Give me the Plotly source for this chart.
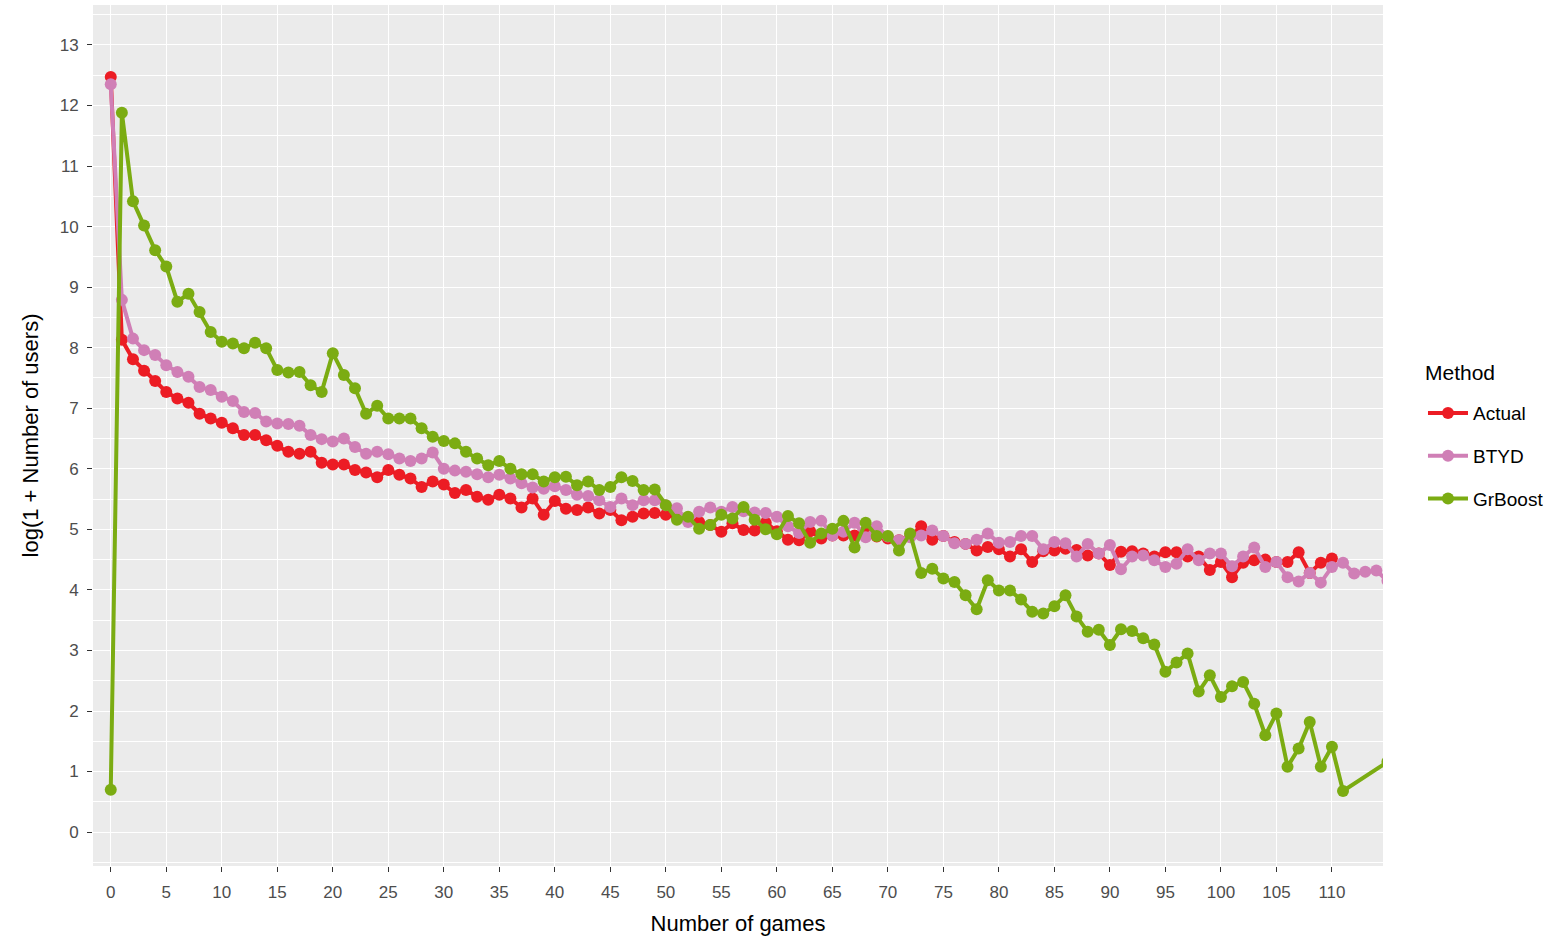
import plotly.graph_objects as go

games_actual = list(range(0, 111))
actual = [12.47, 8.13, 7.81, 7.62, 7.45, 7.27, 7.16, 7.09, 6.91, 6.83,
          6.76, 6.67, 6.56, 6.56, 6.47, 6.38, 6.28, 6.25, 6.28, 6.10,
          6.07, 6.07, 5.98, 5.94, 5.86, 5.98, 5.90, 5.84, 5.70, 5.79,
          5.74, 5.60, 5.65, 5.54, 5.49, 5.57, 5.51, 5.36, 5.51, 5.24,
          5.47, 5.34, 5.32, 5.36, 5.26, 5.32, 5.15, 5.21, 5.26, 5.27,
          5.24, 5.21, 5.18, 5.12, 5.07, 4.96, 5.10, 4.99, 4.98, 5.11,
          4.97, 4.83, 4.82, 4.97, 4.85, 4.90, 4.90, 4.90, 4.97, 4.88,
          4.85, 4.82, 4.88, 5.05, 4.83, 4.89, 4.79, 4.76, 4.65, 4.71,
          4.67, 4.55, 4.67, 4.46, 4.64, 4.65, 4.68, 4.66, 4.57, 4.60,
          4.41, 4.63, 4.64, 4.60, 4.55, 4.62, 4.62, 4.55, 4.55, 4.33,
          4.46, 4.21, 4.45, 4.49, 4.50, 4.46, 4.46, 4.62, 4.28, 4.45,
          4.52]

games_btyd = list(range(0, 116))
btyd = [12.35, 8.79, 8.15, 7.96, 7.88, 7.71, 7.60, 7.52, 7.35, 7.30,
        7.19, 7.12, 6.94, 6.92, 6.78, 6.75, 6.74, 6.71, 6.56, 6.49,
        6.45, 6.50, 6.36, 6.25, 6.28, 6.24, 6.17, 6.13, 6.17, 6.27,
        6.00, 5.97, 5.95, 5.91, 5.86, 5.90, 5.84, 5.76, 5.69, 5.67,
        5.71, 5.65, 5.57, 5.55, 5.48, 5.37, 5.51, 5.40, 5.48, 5.48,
        5.40, 5.35, 5.12, 5.29, 5.36, 5.29, 5.37, 5.30, 5.28, 5.27,
        5.21, 5.05, 4.94, 5.12, 5.14, 4.90, 4.96, 5.11, 4.87, 5.05,
        4.88, 4.82, 4.87, 4.90, 4.98, 4.89, 4.77, 4.76, 4.83, 4.93,
        4.78, 4.79, 4.89, 4.89, 4.67, 4.79, 4.77, 4.55, 4.76, 4.60,
        4.74, 4.34, 4.55, 4.57, 4.49, 4.38, 4.43, 4.67, 4.49, 4.60,
        4.60, 4.39, 4.55, 4.70, 4.38, 4.46, 4.21, 4.14, 4.28, 4.12,
        4.38, 4.45, 4.27, 4.30, 4.32, 4.15]

games_grboost = list(range(0, 112)) + [115]
grboost = [0.70, 11.88, 10.42, 10.02, 9.61, 9.34, 8.76, 8.89, 8.59, 8.26,
           8.10, 8.07, 7.99, 8.08, 7.99, 7.63, 7.59, 7.60, 7.38, 7.27,
           7.91, 7.55, 7.33, 6.91, 7.04, 6.83, 6.83, 6.83, 6.67, 6.53,
           6.46, 6.42, 6.28, 6.17, 6.06, 6.13, 6.00, 5.91, 5.91, 5.79,
           5.86, 5.87, 5.73, 5.79, 5.65, 5.70, 5.86, 5.80, 5.65, 5.66,
           5.40, 5.16, 5.21, 5.01, 5.07, 5.24, 5.18, 5.37, 5.16, 5.00,
           4.92, 5.22, 5.10, 4.78, 4.93, 5.01, 5.14, 4.70, 5.11, 4.89,
           4.89, 4.65, 4.93, 4.28, 4.35, 4.19, 4.13, 3.91, 3.68, 4.16,
           3.99, 3.99, 3.84, 3.64, 3.61, 3.73, 3.91, 3.56, 3.31, 3.34,
           3.09, 3.35, 3.32, 3.20, 3.10, 2.65, 2.80, 2.95, 2.32, 2.59,
           2.23, 2.41, 2.48, 2.12, 1.60, 1.96, 1.08, 1.38, 1.82, 1.08,
           1.41, 0.68, 1.16]

series = [
    ("Actual", games_actual, actual, "#EC1C24"),
    ("BTYD", games_btyd, btyd, "#D07FB6"),
    ("GrBoost", games_grboost, grboost, "#7BAC12"),
]

x_ticks = list(range(0, 111, 5))
y_ticks = list(range(0, 14))

fig = go.Figure()
for name, xs, ys, col in series:
    fig.add_trace(go.Scatter(
        x=xs, y=ys, name=name, mode="lines+markers", legendgroup=name,
        line=dict(color=col, width=4),
        marker=dict(color=col, size=12),
    ))

font_family = "Liberation Sans, Arial, sans-serif"
fig.update_layout(
    width=1562, height=942,
    margin=dict(l=93, r=179, t=5, b=76),
    paper_bgcolor="white",
    plot_bgcolor="#EBEBEB",
    font=dict(family=font_family, color="#000000"),
    showlegend=True,
    legend=dict(
        font=dict(size=19, color="#000000"),
        x=1.031, xanchor="left", y=0.548, yanchor="top",
        bgcolor="rgba(0,0,0,0)", tracegroupgap=15, itemwidth=40,
    ),
    annotations=[dict(
        text="Method", xref="paper", yref="paper", x=1.031, xanchor="left",
        y=0.573, yanchor="middle", showarrow=False,
        font=dict(size=21, color="#000000"),
    )],
    xaxis=dict(
        range=[-1.6, 114.6], tickmode="array", tickvals=x_ticks,
        ticktext=[str(v) for v in x_ticks],
        showgrid=True, gridcolor="white", gridwidth=1.4, zeroline=False,
        ticks="outside", ticklen=5, tickwidth=1, tickcolor="#333333",
        ticklabelstandoff=6,
        tickfont=dict(size=17, color="#4D4D4D"),
        title=dict(text="Number of games", font=dict(size=22, color="#000000"), standoff=14),
        showline=False,
    ),
    yaxis=dict(
        range=[-0.56, 13.66], tickmode="array", tickvals=y_ticks,
        ticktext=[str(v) for v in y_ticks],
        showgrid=True, gridcolor="white", gridwidth=1.4, zeroline=False,
        minor=dict(dtick=0.5, tick0=0, showgrid=True, gridcolor="white", gridwidth=0.7, ticks=""),
        ticks="outside", ticklen=5, tickwidth=1, tickcolor="#333333",
        ticklabelstandoff=5,
        tickfont=dict(size=17, color="#4D4D4D"),
        title=dict(text="log(1 + Number of users)", font=dict(size=22, color="#000000"), standoff=14),
        showline=False,
    ),
)

fig.write_html("out.html")
